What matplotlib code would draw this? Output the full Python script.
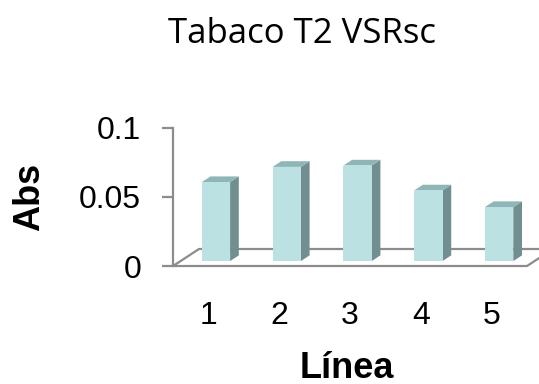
import matplotlib.pyplot as plt
from matplotlib.patches import Polygon

# Absorbancia por línea (Tabaco T2 VSRsc)
lineas = [1, 2, 3, 4, 5]
abs_vals = [0.057, 0.068, 0.069, 0.051, 0.039]
y_ticks = [0, 0.05, 0.1]
y_ticklabels = ['0', '0.05', '0.1']

plt.rcParams['font.family'] = ['Liberation Sans', 'DejaVu Sans']

fig = plt.figure(figsize=(5.39, 3.84), dpi=100)
ax = fig.add_axes([173 / 539, 118 / 384, 354 / 539, 138.5 / 384])
ax.set_xlim(0.5, 5.5)
ax.set_ylim(0, 0.1)

# profundidad del suelo en pixeles -> unidades de datos
FLOOR_DX, FLOOR_DY = 26, 17
inv = ax.transData.inverted()
p0 = inv.transform((0, 0))
p1 = inv.transform((1, 1))
ux, uy = p1[0] - p0[0], p1[1] - p0[1]


def proj(x, y, d):
    return (x + d * FLOOR_DX * ux, y + d * FLOOR_DY * uy)


grey = '#8c8c8c'

# suelo
floor = [proj(0.5, 0, 0), proj(5.5, 0, 0), proj(5.5, 0, 1), proj(0.5, 0, 1)]
ax.add_patch(Polygon(floor, closed=True, facecolor='white', edgecolor=grey,
                     linewidth=1.6, clip_on=False, zorder=1))

# barras 3D
w = 0.2
d0, d1 = 0.29, 0.625
for c, v in zip(lineas, abs_vals):
    front = [proj(c - w, 0, d0), proj(c + w, 0, d0), proj(c + w, v, d0), proj(c - w, v, d0)]
    side = [proj(c + w, 0, d0), proj(c + w, 0, d1), proj(c + w, v, d1), proj(c + w, v, d0)]
    top = [proj(c - w, v, d0), proj(c + w, v, d0), proj(c + w, v, d1), proj(c - w, v, d1)]
    ax.add_patch(Polygon(side, closed=True, facecolor='#718f90', edgecolor='none',
                         clip_on=False, zorder=3))
    ax.add_patch(Polygon(top, closed=True, facecolor='#8fb6b6', edgecolor='none',
                         clip_on=False, zorder=3))
    ax.add_patch(Polygon(front, closed=True, facecolor='#bbe1e3', edgecolor='none',
                         clip_on=False, zorder=4))

# ejes
for s in ['top', 'right', 'bottom']:
    ax.spines[s].set_visible(False)
ax.spines['left'].set_color(grey)
ax.spines['left'].set_linewidth(1.6)
ax.spines['left'].set_zorder(5)

ax.set_yticks(y_ticks)
ax.set_yticklabels(y_ticklabels)
ax.tick_params(axis='y', length=8, width=1.6, color=grey, pad=15, labelsize=23)
ax.set_xticks(lineas)
ax.set_xticklabels([str(l) for l in lineas])
ax.tick_params(axis='x', length=0, pad=25, labelsize=23)
ax.set_facecolor('none')

fig.text(30 / 539, 1 - 197 / 384, 'Abs', rotation=90, ha='center', va='center',
         fontsize=26, fontweight='bold')
fig.text(347 / 539, 1 - 368 / 384, 'Línea', ha='center', va='center',
         fontsize=26, fontweight='bold')
fig.text(302 / 539, 1 - 43 / 384, 'Tabaco T2 VSRsc', ha='center', va='baseline',
         fontsize=25, family=['Open Sans', 'DejaVu Sans'])

fig.savefig('out.png', dpi=100)
